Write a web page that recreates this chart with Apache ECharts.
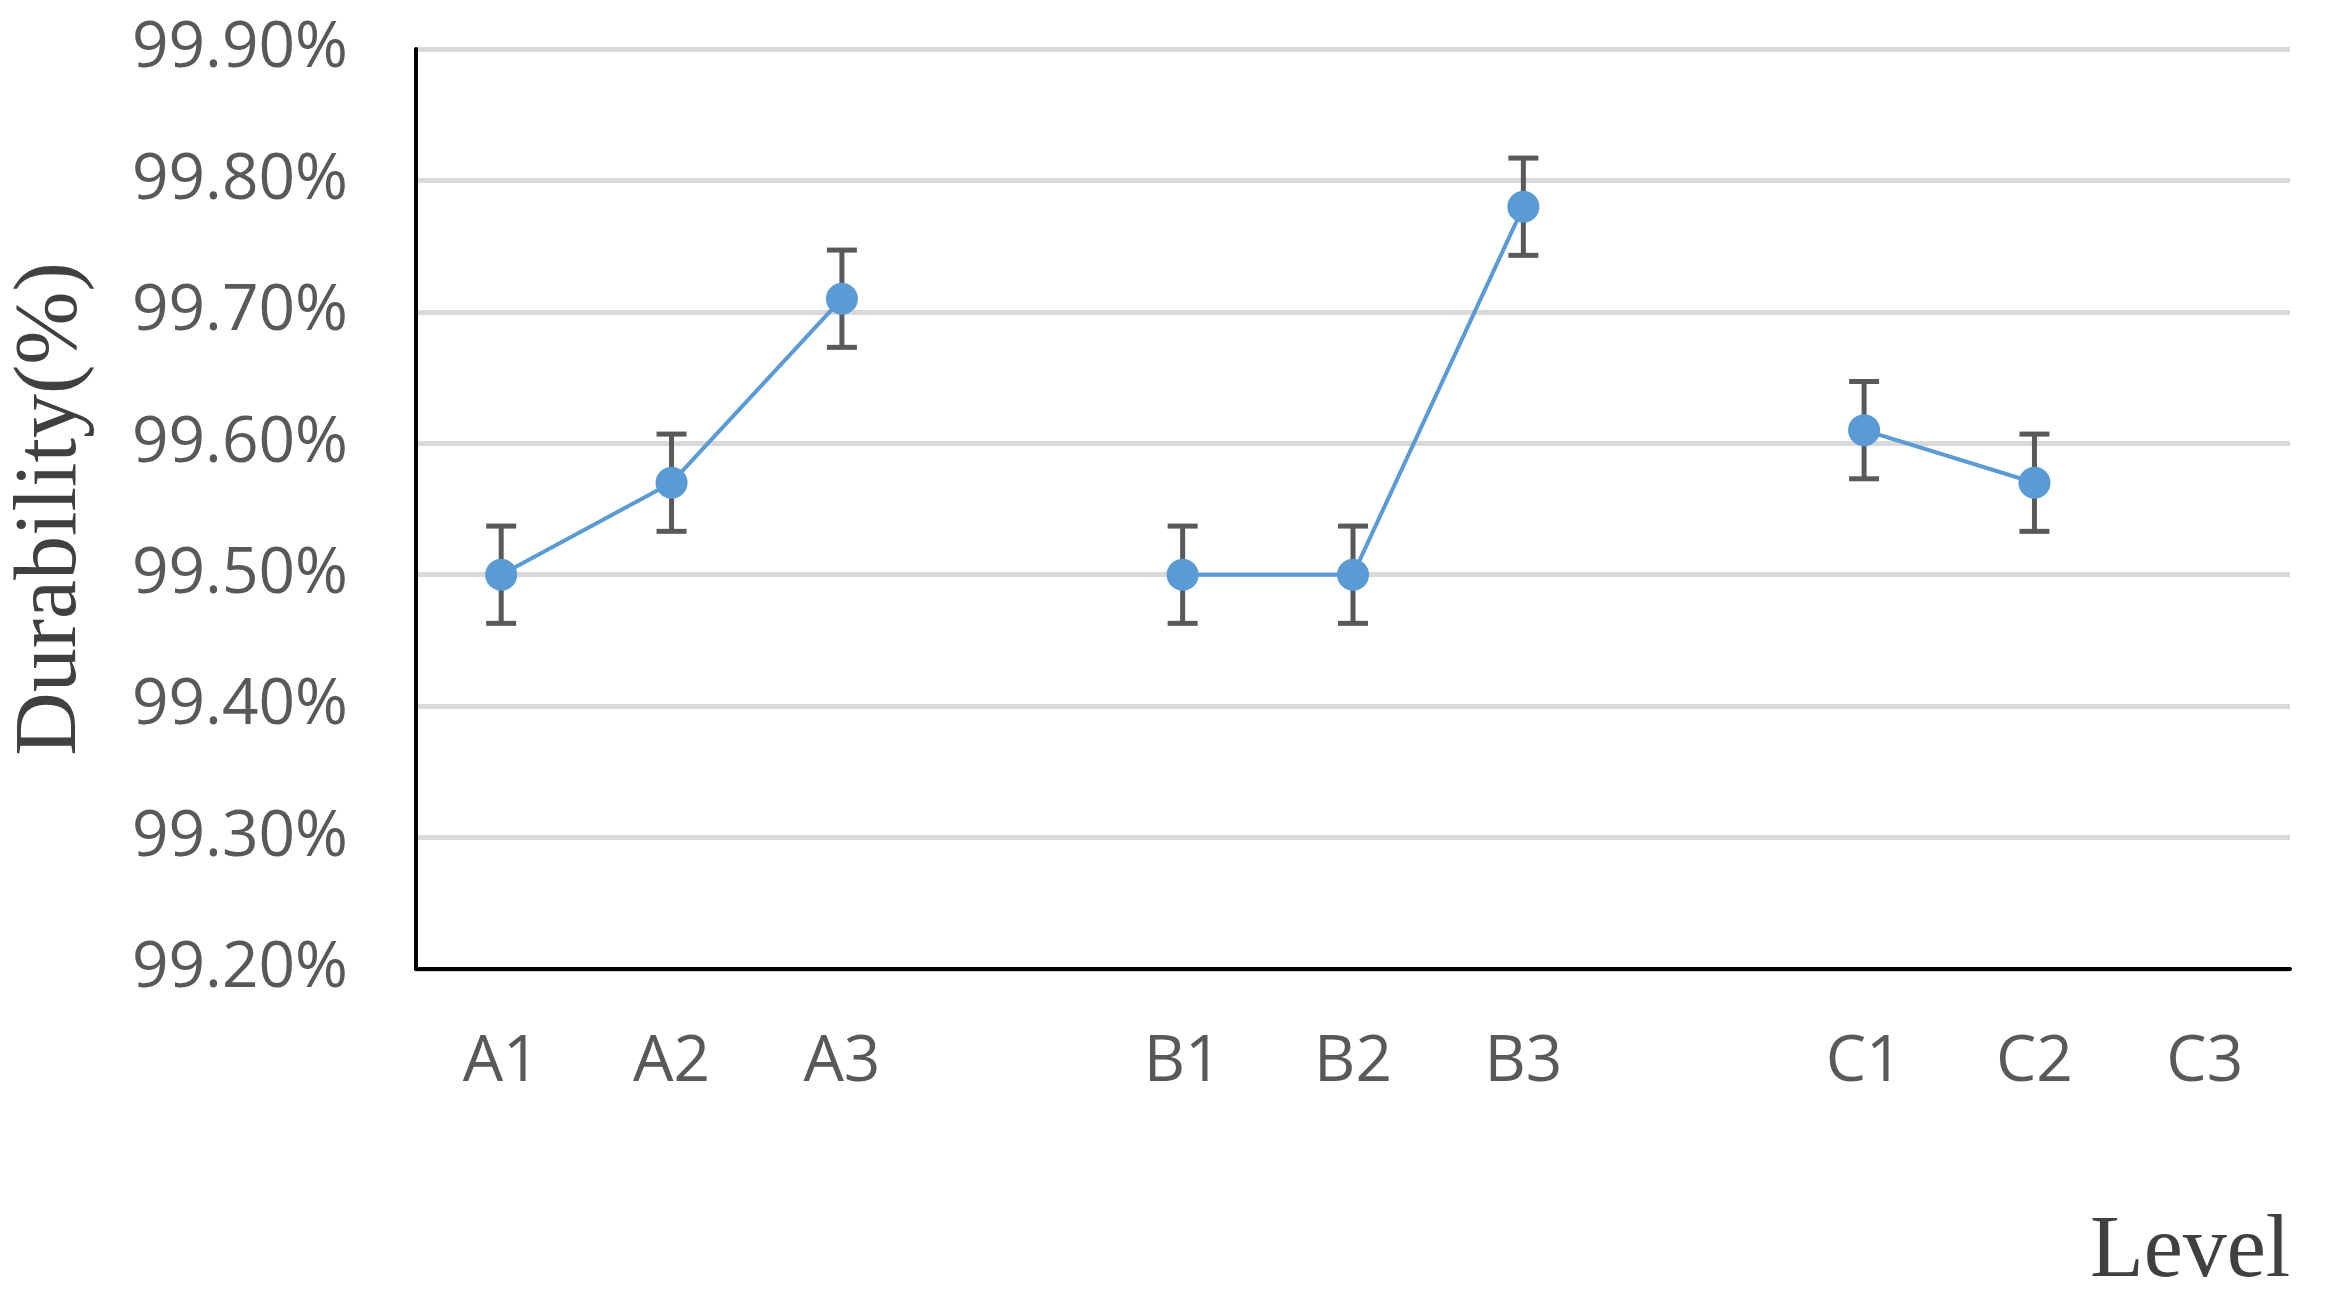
<!DOCTYPE html>
<html>
<head>
<meta charset="utf-8">
<script src="https://cdn.jsdelivr.net/npm/echarts@6/dist/echarts.min.js"></script>
<style>
  html, body { margin: 0; padding: 0; background: #fff; }
  #chart { width: 2334px; height: 1305px; }
</style>
</head>
<body>
<div id="chart"></div>
<script>
// categories along the x axis (empty slots separate the groups)
const levels = ["A1", "A2", "A3", "", "B1", "B2", "B3", "", "C1", "C2", "C3"];
// mean durability (%)
const durability = [99.50, 99.57, 99.71, null, 99.50, 99.50, 99.78, null, 99.61, 99.57, null];
// half-width of the error bars (%)
const errorSize = [0.037, 0.037, 0.037, null, 0.037, 0.037, 0.037, null, 0.037, 0.037, null];

const chart = echarts.init(document.getElementById("chart"));

const errorData = [];
levels.forEach((c, i) => {
  if (durability[i] != null) {
    errorData.push([i, durability[i] - errorSize[i], durability[i] + errorSize[i]]);
  }
});

const option = {
  animation: false,
  grid: { left: 401, right: 44, top: 49, bottom: 336 },
  xAxis: {
    type: "category",
    data: levels,
    boundaryGap: true,
    axisLine: { lineStyle: { color: "#000", width: 4 } },
    axisTick: { show: false },
    axisLabel: { color: "#595959", fontSize: 64, fontFamily: "Open Sans", margin: 62 },
    name: "Level",
    nameLocation: "end",
    nameGap: 0,
    nameTextStyle: {
      fontFamily: "Liberation Serif", fontSize: 88, color: "#404040",
      padding: [240, 0, 0, -200], verticalAlign: "top"
    }
  },
  yAxis: {
    type: "value",
    min: 99.2,
    max: 99.9,
    interval: 0.1,
    axisLine: { show: true, lineStyle: { color: "#000", width: 4 } },
    axisTick: { show: false },
    splitLine: { lineStyle: { color: "#d9d9d9", width: 5 } },
    axisLabel: {
      color: "#595959", fontSize: 64, fontFamily: "Open Sans", margin: 68,
      formatter: v => v.toFixed(2) + "%"
    },
    name: "Durability(%)",
    nameLocation: "middle",
    nameRotate: 90,
    nameGap: 320,
    nameTextStyle: { fontFamily: "Liberation Serif", fontSize: 88, color: "#404040", padding: [0, 0, 0, 0] }
  },
  series: [
    {
      type: "line",
      data: durability,
      connectNulls: false,
      symbol: "circle",
      symbolSize: 32,
      itemStyle: { color: "#5b9bd5" },
      lineStyle: { color: "#5b9bd5", width: 4 },
      z: 3
    },
    {
      type: "custom",
      data: errorData,
      z: 2,
      renderItem: function (params, api) {
        const x = api.value(0);
        const lo = api.coord([x, api.value(1)]);
        const hi = api.coord([x, api.value(2)]);
        const w = 15;
        const style = { stroke: "#595959", lineWidth: 5 };
        return {
          type: "group",
          children: [
            { type: "line", shape: { x1: hi[0], y1: hi[1], x2: lo[0], y2: lo[1] }, style },
            { type: "line", shape: { x1: hi[0] - w, y1: hi[1], x2: hi[0] + w, y2: hi[1] }, style },
            { type: "line", shape: { x1: lo[0] - w, y1: lo[1], x2: lo[0] + w, y2: lo[1] }, style }
          ]
        };
      }
    }
  ]
};

chart.setOption(option);
</script>
</body>
</html>
